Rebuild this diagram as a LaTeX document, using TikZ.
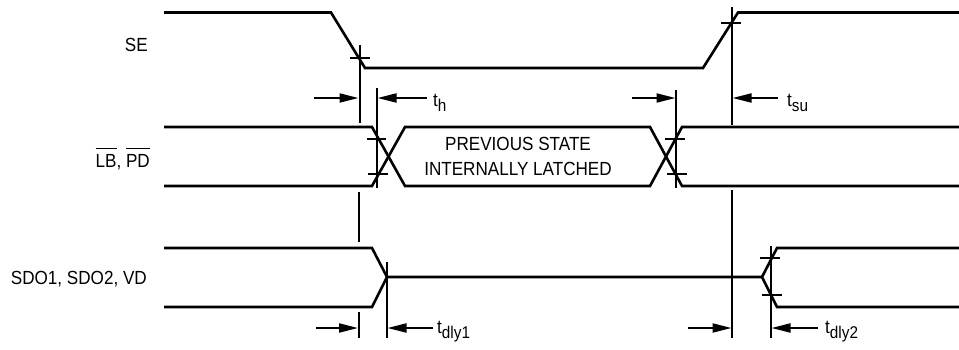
\documentclass[tikz,border=0pt]{standalone}
\usepackage{fontspec}
\setmainfont[FakeStretch=0.9]{Liberation Sans}
\usetikzlibrary{arrows.meta}
\newcommand\ovbar[1]{\leavevmode\vbox{\hrule height 1.5pt\kern 4.5pt\hbox{#1}}}
\newcommand\tlab[1]{t\raisebox{-5pt}{\fontsize{17}{17}\selectfont #1}}
\begin{document}
\begin{tikzpicture}[x=1pt,y=-1pt,
  wave/.style={line width=2.6pt, line join=miter},
  guide/.style={line width=2pt},
  tickmark/.style={line width=2pt},
  dimarrow/.style={line width=2pt, -{Triangle[length=19pt,width=9pt]}},
  sig/.style={font=\fontsize{19}{22}\selectfont, inner sep=0pt},
  tlabel/.style={font=\fontsize{19}{22}\selectfont, inner sep=0pt, anchor=base west}]
\useasboundingbox (0,0) rectangle (959,349);
% ---- signal labels
\node[sig, anchor=base east] (se) at (148,51) {SE};
\node[sig, anchor=base east] (lbpd) at (150,167) {\ovbar{LB}, \ovbar{PD}};
\node[sig, anchor=base east] (sdo) at (147,284) {SDO1, SDO2, VD};
\node[sig, anchor=base] (prev1) at (518,150) {PREVIOUS STATE};
\node[sig, anchor=base] (prev2) at (518,175) {INTERNALLY LATCHED};
% ---- SE waveform
\draw[wave] (164,12.5) -- (331,12.5) -- (365,68) -- (703,68) -- (738,12.5) -- (959,12.5);
\draw[tickmark] (350,58) -- (370,58);
\draw[tickmark] (721,23) -- (741,23);
% ---- LB, PD waveform
\draw[wave] (164,127) -- (372,127) -- (405,186) -- (650,186) -- (682,127) -- (959,127);
\draw[wave] (164,186) -- (372,186) -- (405,127) -- (650,127) -- (682,186) -- (959,186);
\draw[tickmark] (367,139) -- (386,139);
\draw[tickmark] (368,174) -- (388,174);
\draw[tickmark] (665,139) -- (685,139);
\draw[tickmark] (667,174) -- (687,174);
% ---- SDO waveform
\draw[wave] (164,248) -- (372,248) -- (387,277) -- (762,277);
\draw[wave] (164,307) -- (372,307) -- (387,277);
\draw[wave] (959,248) -- (777,248) -- (762,277) -- (777,307) -- (959,307);
\draw[tickmark] (760,258) -- (780,258);
\draw[tickmark] (762,295) -- (782,295);
% ---- guide lines
\draw[guide] (359.5,45) -- (359.5,123);
\draw[guide] (358.5,192) -- (358.5,242);
\draw[guide] (358.5,312) -- (358.5,338);
\draw[guide] (377,88) -- (377,188);
\draw[guide] (387,262) -- (387,338);
\draw[guide] (676,90) -- (676,188);
\draw[guide] (732,7) -- (732,125);
\draw[guide] (732,190) -- (732,338);
\draw[guide] (771,246) -- (771,338);
% ---- dimension arrows
\coordinate (thA) at (314,98);   \coordinate (thB) at (358.5,98);
\coordinate (thC) at (427,98);   \coordinate (thD) at (377.5,98);
\draw[dimarrow] (thA) -- (thB);
\draw[dimarrow] (thC) -- (thD);
\node[tlabel] (th) at (433,106) {\tlab{h}};
\coordinate (suA) at (632,98);   \coordinate (suB) at (675.5,98);
\coordinate (suC) at (778,98);   \coordinate (suD) at (732.5,98);
\draw[dimarrow] (suA) -- (suB);
\draw[dimarrow] (suC) -- (suD);
\node[tlabel] (tsu) at (787,106) {\tlab{su}};
\coordinate (d1A) at (316,328);  \coordinate (d1B) at (358,328);
\coordinate (d1C) at (433,328);  \coordinate (d1D) at (387.5,328);
\draw[dimarrow] (d1A) -- (d1B);
\draw[dimarrow] (d1C) -- (d1D);
\node[tlabel] (tdly1) at (437,333) {\tlab{dly1}};
\coordinate (d2A) at (688,328);  \coordinate (d2B) at (731.5,328);
\coordinate (d2C) at (818,328);  \coordinate (d2D) at (771.5,328);
\draw[dimarrow] (d2A) -- (d2B);
\draw[dimarrow] (d2C) -- (d2D);
\node[tlabel] (tdly2) at (825,333) {\tlab{dly2}};
\end{tikzpicture}
\end{document}
